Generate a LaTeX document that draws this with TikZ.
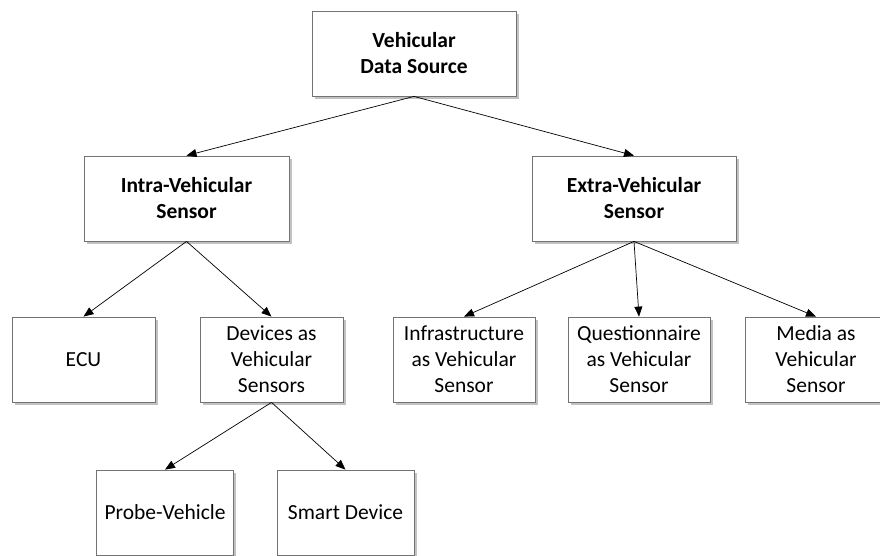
\documentclass[tikz,border=0pt]{standalone}
\usepackage{fontspec}
\setmainfont{Carlito}
\usepackage{tikz}
\usetikzlibrary{shapes,arrows,positioning,calc,shadows,arrows.meta}

\tikzset{
  box/.style={draw=black!55, fill=white, line width=0.8pt, align=center,
    inner sep=0pt, minimum height=85pt,
    drop shadow={shadow xshift=2.5pt, shadow yshift=-3pt, fill=black!40, opacity=0.6},
    font=\fontsize{21.5}{26}\selectfont},
  boldbox/.style={box, font=\fontsize{21.5}{26}\selectfont\bfseries},
  link/.style={-{Triangle[length=10pt,width=8pt]}, line width=0.7pt}
}

\begin{document}
\begin{tikzpicture}[x=1pt,y=-1pt]
        \useasboundingbox (0,0) rectangle (880,555);

        % Root
        \node[boldbox, minimum width=204pt] (src) at (414,53.5) {Vehicular\\Data Source};

        % Second level
        \node[boldbox, minimum width=205pt] (intra) at (186.5,198.5) {Intra-Vehicular\\Sensor};
        \node[boldbox, minimum width=204pt] (extra) at (634,198.5) {Extra-Vehicular\\Sensor};

        % Third level
        \node[box, minimum width=143pt] (ecu) at (83.5,359.5) {ECU};
        \node[box, minimum width=143pt] (dev) at (271.5,359.5) {Devices as\\Vehicular\\Sensors};
        \node[box, minimum width=142pt] (infra) at (464,359.5) {Infrastructure\\as Vehicular\\Sensor};
        \node[box, minimum width=142pt] (quest) at (639,359.5) {Questionnaire\\as Vehicular\\Sensor};
        \node[box, minimum width=142pt] (media) at (816,359.5) {Media as\\Vehicular\\Sensor};

        % Fourth level
        \node[box, minimum width=137pt] (probe) at (165,512.5) {Probe-Vehicle};
        \node[box, minimum width=137pt] (smart) at (345.5,512.5) {Smart Device};

        % Links
        \draw[link] (src.south) -- (intra.north);
        \draw[link] (src.south) -- (extra.north);
        \draw[link] (intra.south) -- (ecu.north);
        \draw[link] (intra.south) -- (dev.north);
        \draw[link] (extra.south) -- (infra.north);
        \draw[link] (extra.south) -- (quest.north);
        \draw[link] (extra.south) -- (media.north);
        \draw[link] (dev.south) -- (probe.north);
        \draw[link] (dev.south) -- (smart.north);
    \end{tikzpicture}
\end{document}
